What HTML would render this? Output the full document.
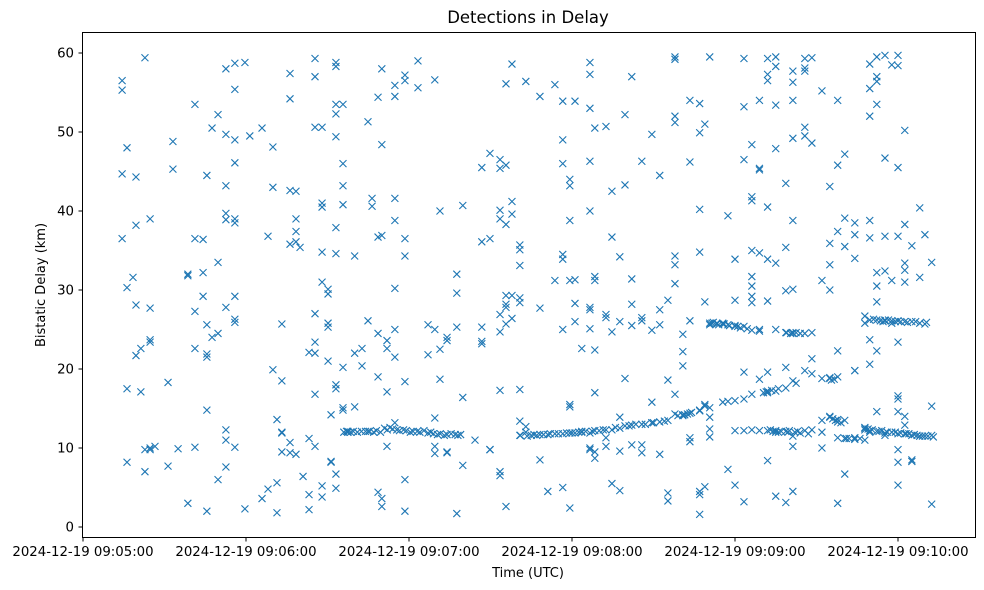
<!DOCTYPE html>
<html><head><meta charset="utf-8"><style>
html,body{margin:0;padding:0;background:#fff;}
svg{display:block;font-family:"DejaVu Sans","Liberation Sans",sans-serif;}
</style></head><body>
<svg id="chart" width="984" height="590" xmlns="http://www.w3.org/2000/svg">
<rect x="0" y="0" width="984" height="590" fill="#fff"/>
<text x="528" y="23" text-anchor="middle" font-size="16.5" fill="#000">Detections in Delay</text>
<g id="marks"></g>
<g id="xaxis"></g>
<g id="yaxis"></g>
<rect x="82.5" y="32.5" width="893" height="505" fill="none" stroke="#000" stroke-width="1"/>
<text x="528" y="577" text-anchor="middle" font-size="13">Time (UTC)</text>
<text transform="translate(45,285) rotate(-90)" text-anchor="middle" font-size="13">Bistatic Delay (km)</text>
</svg>
<script>
// seconds after 09:05:00, with delays (km)
const leftDetections = [
[14.4,[56.5,55.3,44.7,36.5]],[16.2,[48,17.5,8.2,30.3]],[18.4,[31.6]],[19.5,[44.3,38.2,28.1,21.7]],
[21.3,[22.6,17.1]],[22.8,[59.4,9.8,7]],[24.7,[39,27.7,23.7,23.4,10,9.8]],[26.5,[10.2]],[31.3,[18.3,7.7]],
[33.1,[48.8,45.3]],[35,[9.9]],[38.6,[3,32,31.8]],[41.2,[36.5,27.3,22.6,53.5,10.1]],[44.2,[36.4,29.2,32.2]],
[45.6,[21.5,21.9,44.5,25.6,14.8,2]],[47.5,[24,50.5]],[49.7,[24.5,6,33.5,52.2]],
[52.6,[49.7,43.2,39.7,38.9,27.8,12.3,11,7.6,58]],[55.9,[55.4,49,39,38.5,29.2,26.3,25.9,10.1,58.7,46.1]],
[59.6,[2.3,58.8]],[61.4,[49.5]],[65.9,[3.6,50.5]],[68.1,[36.8,4.8]],[69.9,[48.1,43,19.9]],[71.4,[5.6,1.8,13.6]],
[73.2,[25.7,18.5,12,9.5,11.9]],[76.2,[10.7,9.4,35.8,42.6,57.4,54.2]],[78.4,[42.5,39,37.4,36.1,9.2]],[79.9,[35.4]],
[81,[6.4]],[83.2,[22.1,11.2,2.2,4.1]],[85.4,[59.3,57,27,22,23.4,16.8,10.2,50.6]],[88,[50.6,41,40.5,31,34.8,5.2,3.8]],
[90.2,[25.8,25.3,21,30.1,29.5]],[91.3,[14.2,8.2,8.3]],[93.1,[58.8,58.3,53.5,52.3,49.4,37.9,34.6,18,17.5,6.7,4.9]],
[95.7,[46,43.2,40.8,20.2,15.1,14.8,53.5]],[97.5,[12,12,12.1]],[100,[34.3,22,15.2]],[102.7,[20.4,22.6]],
[104.9,[51.3,26.1,12.1]],[106.4,[40.6,41.6]],[108.6,[36.7,54.4,24.5,19,4.4]],[110,[48.4,58,36.9,3.6,2.6]],
[111.9,[22.6,23.6,10.2,17.1]],[114.8,[54.5,41.6,38.8,30.2,25,21.5,13.2,55.9]],[118.5,[56.5,36.5,34.3,18.4,6,2,57.2]],
[123.3,[59,55.6]],[127,[25.6,21.8]],[129.5,[56.6,25,13.8,9.3,10.2]],[131.4,[40,22.5,18.7]],[134,[24,23.6,9.5,9.4]],
[137.6,[32,29.6,25.3,1.7]],[139.8,[40.7,16.4,7.8]]
];
const midDetections = [
[144.3,[11]],[146.8,[45.5,36.1,25.3,23.5,23.2]],[149.8,[9.8,9.8,9.8,36.5,47.3]],
[153.5,[46.5,45.4,40.1,26.9,24.7,17.3,7,6.5,39]],[155.7,[38.3,29.3,28.2,27.8,25.7,2.6,56.1,45.8]],
[157.9,[41.2,39.6,29.3,26.4,58.6]],[160.8,[35.7,35.1,33.1,28.4,29,11.6,17.4,13.4]],[163,[56.4,12.7,12]],
[168.2,[54.5,27.7,8.5,11.7]],[171.1,[4.5,11.7]],[173.7,[56,31.2,11.8]],[176.6,[53.9,49,46,34.5,33.9,25,5,11.8]],
[179.2,[43.2,44,38.8,31.2,15.2,15.5,2.4,11.9]],[181.1,[53.9,31.3,28.3,26,11.9]],[183.6,[22.6,12,12.1]],
[186.6,[58.8,57.3,53,46.3,40,27.8,27.5,25.1,10,9.8,11.9]],[188.4,[50.5,31.7,31.2,12.2,17,8.7,22.4,9.5]],
[192.5,[50.7,26.5,26.9,12.3,11.3,10.2]],[194.7,[42.5,5.5,24.7,12.3,36.7]],[197.6,[34.2,26,12.5,13.9,9.6,4.6]],
[199.5,[43.3,52.2,18.8,12.8]],[202,[57,31.4,28.2,25.5,10.4,12.9]],[205.7,[46.3,26.5,26.1,10.4,9.4,13]],
[209.4,[49.7,15.8,24.9,13.2,13.2]],[212.3,[44.5,27.5,25.6,9.2,13.3]],[215.3,[28.7,18.6,3.3,4.3,13.5]],
[217.9,[52,51.2,34.3,33.2,30.8,14.3,16.8,59.2,59.5]],[220.8,[24.4,22.2,20.4,14.1,14.2]],
[223.4,[54,46.2,26.1,11.3,14.4,10.8]],[227,[53.6,49.9,40.2,34.8,4.5,14.7,4.1,1.6,14.8]],
[228.9,[51,28.5,15.3,5.1,15.5]],[230.7,[59.5,25.8,25.6,11.4,12.4,13.9,15.1]]
];
const rightDetections = [
[233.3,[25.8,25.7]],[235.5,[25.7,25.8,15.8]],[237.4,[39.4,7.3,25.6,15.9]],[240,[25.5,12.2,33.9,28.7,5.3,16,25.4]],
[243.3,[59.3,53.2,46.5,25.4,19.6,12.2,3.2,16.2]],[246.2,[48.4,41.8,41.3,35,31.7,30.5,29.2,28.4,24.9,16.8,12.3]],
[249,[54,45.2,45.4,34.7,25,12.2,24.8,18.7]],[252,[59.3,57.3,56.5,40.5,33.9,28.6,19.6,17,17.2,12.2,8.4]],
[255,[59.5,58.3,53.4,47.9,33.4,25,17.2,12,12.2,3.9]],[258.7,[43.5,35.4,29.9,24.6,17.6,12.1,20.2,3.1]],
[261.3,[57.7,56.3,54,49.2,38.8,30.1,24.6,24.5,18.5,11.5,10.2,4.5]],[265.7,[59.3,58.1,57.7,50.6,49.5,24.5,19.8,12.2]],
[268.3,[59.4,48.6,24.6,21.3,12.3,19.4]],[272,[55.2,31.2,18.8,12,13.5,10]],[274.9,[43.1,35.9,33.2,30,18.8,18.9,13.9,14]],
[277.8,[54,45.8,37.4,22.3,19,13.6,13.3,11.3,3]],[280.4,[47.2,39.1,35.5,11.2,13.5,6.7]],[284.1,[38.5,37,34,19.8,19.8,11.1,11.3]],
[287.8,[12.3,12.5,12.6,26.7,25.8,11]],[289.6,[58.6,55.5,52,38.8,36.6,23.7,20.6,12.2,12,26.2]],
[292.2,[59.5,57,56.4,53.5,32.2,30.5,28.5,26.2,22.3,14.6,12.1]],[295.2,[59.7,46.7,36.8,32.4,26.2,26.1,11.9,11.6]],
[297.7,[58.5,31.2,26.1,25.8,12]],[300,[59.7,58.4,45.5,36.8,26.1,23.4,16.2,16.6,9.8,8.2,5.3,11.8,14.6]],
[302.5,[50.2,38.3,32.5,33.4,31,26,14,11.8,12.9]],[305.1,[35.6,26,8.5,8.3,11.6]],[308,[31.6,25.8,11.5,40.4,11.5]],
[309.9,[37,25.7,11.5]],[312.4,[33.5,15.3,2.9,11.6]]
];
const trackDetections = [
[96,[12]],[97,[12.1]],[98.5,[12]],[99.5,[12.1]],[101,[12]],[102.5,[12.1]],[104,[12.1]],[105.5,[12.1]],[107,[12]],
[108,[12.2]],[109.5,[12]],[111,[12.5]],[112,[12.3]],[113,[12.6]],[114,[12.4]],[115.5,[12.3]],[116.5,[12.2]],[118,[12.3]],
[119,[12.2]],[120.5,[12]],[121.5,[12.1]],[123,[12.1]],[124,[12]],[125.5,[12.2]],[127,[11.9]],[128,[12]],[129,[11.8]],
[130.5,[11.7]],[131.5,[11.8]],[133,[11.6]],[134,[11.7]],[135.5,[11.8]],[137,[11.7]],[138,[11.6]],[139,[11.7]],
[161,[11.6]],[163.5,[11.5]],[165,[11.6]],[166,[11.7]],[167,[11.6]],[169.5,[11.7]],[172,[11.8]],[175,[11.8]],[178,[11.9]],
[180,[11.9]],[182.5,[12]],[185,[12.1]],[187.5,[12.1]],[190,[12.2]],[191.5,[12.3]],
[196,[12.6]],[201,[12.8]],[203.5,[13]],[207,[13]],[210,[13.2]],[214,[13.4]],[219,[14.1]],[221.5,[14.2]],[222.5,[14.3]],[224,[14.5]],
[231.5,[25.8]],[232,[25.9]],[234,[25.6]],[236,[25.7]],[238,[25.5]],[241,[25.4]],[242,[25.2]],[244.5,[25.1]],
[253,[12.3]],[254,[12.1]],[256,[12]],[257,[12.1]],[259.5,[12]],[260,[12.2]],[262,[12]],[263,[12.1]],[264,[11.9]],[267,[11.8]],
[250.5,[17]],[251.5,[17.1]],[253.5,[17.3]],[256,[17.5]],[262.5,[18.2]],[275.5,[18.6]],[276.5,[18.7]],
[259,[24.6]],[260.5,[24.5]],[262.5,[24.6]],[264,[24.5]],
[276,[13.7]],[277,[13.5]],[279,[13.2]],[281,[11.2]],[282,[11.2]],[286,[11.2]],
[289,[12.4]],[290.5,[12.3]],[293,[12.1]],[294,[12.2]],[296,[12]],[299,[12]],[301,[11.9]],[303,[11.8]],[304,[11.8]],
[306,[11.7]],[307,[11.6]],[309,[11.5]],[311,[11.5]],[313,[11.4]],
[291,[26.3]],[293.5,[26.1]],[294.5,[26]],[296.5,[26.2]],[299,[26]],[301,[26]],[303.5,[25.9]],[306.5,[26]],[310.5,[25.9]]
];
const xTickSeconds = [0,60,120,180,240,300];
const xTickLabels = ["2024-12-19 09:05:00","2024-12-19 09:06:00","2024-12-19 09:07:00","2024-12-19 09:08:00","2024-12-19 09:09:00","2024-12-19 09:10:00"];
const yTicks = [0,10,20,30,40,50,60];

const NS = "http://www.w3.org/2000/svg";
function xScale(s){ return 83 + s * 163 / 60; }
function yScale(v){ return 527 - v * 7.9; }
function mk(tag, attrs, parent){ const e = document.createElementNS(NS, tag); for (const k in attrs) e.setAttribute(k, attrs[k]); parent.appendChild(e); return e; }

const marks = document.getElementById("marks");
[leftDetections, midDetections, rightDetections, trackDetections].forEach(group => {
  group.forEach(([s, vals]) => {
    vals.forEach(v => {
      const cx = xScale(s), cy = yScale(v), r = 3.5;
      const p = mk("path", {d:`M${cx-r},${cy-r}L${cx+r},${cy+r}M${cx-r},${cy+r}L${cx+r},${cy-r}`, stroke:"#1f77b4", "stroke-width":"1.1", fill:"none"}, marks);
      
      
    });
  });
});

const xa = document.getElementById("xaxis");
xTickSeconds.forEach((s, i) => {
  const x = xScale(s);
  const t = mk("line", {x1:x, x2:x, y1:537.5, y2:541.5, stroke:"#000"}, xa);
  
  
  const l = mk("text", {x:x, y:556, "text-anchor":"middle", "font-size":"13.3"}, xa);
  l.textContent = xTickLabels[i];
  
  
});
const ya = document.getElementById("yaxis");
yTicks.forEach(v => {
  const y = yScale(v);
  const t = mk("line", {x1:78.5, x2:82.5, y1:y, y2:y, stroke:"#000"}, ya);
  
  
  const l = mk("text", {x:74, y:y+4.5, "text-anchor":"end", "font-size":"13.3"}, ya);
  l.textContent = v;
  
  
});
</script>
</body></html>
